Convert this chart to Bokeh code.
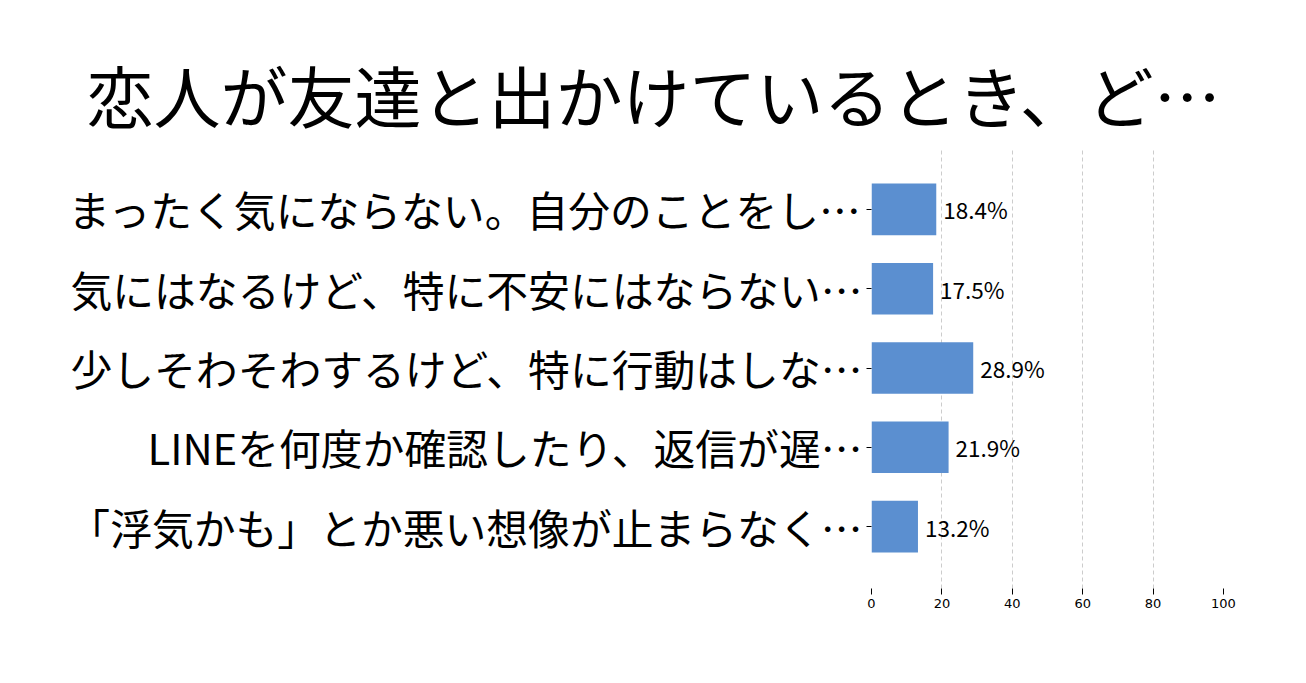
from bokeh.plotting import figure
from bokeh.models import ColumnDataSource, FactorRange, Range1d, FixedTicker
from bokeh.core.properties import value
from bokeh.embed import file_html
from bokeh.resources import INLINE

title_text = "恋人が友達と出かけているとき、ど…"
categories = [
    "まったく気にならない。自分のことをし…",
    "気にはなるけど、特に不安にはならない…",
    "少しそわそわするけど、特に行動はしな…",
    "LINEを何度か確認したり、返信が遅…",
    "「浮気かも」とか悪い想像が止まらなく…",
]
values = [18.4, 17.5, 28.9, 21.9, 13.2]
value_labels = ["18.4%", "17.5%", "28.9%", "21.9%", "13.2%"]
x_ticks = [0, 20, 40, 60, 80, 100]

JP = "Noto Sans CJK JP"
BAR = "#5b8fd0"
W = 1298

source = ColumnDataSource(dict(cat=categories, val=values, lbl=value_labels))

y_range = FactorRange(factors=list(reversed(categories)), range_padding=0.28,
                      range_padding_units="absolute")
p = figure(width=W, height=668, y_range=y_range, x_range=Range1d(0, 100),
           output_backend="svg", toolbar_location=None,
           min_border_left=871, min_border_right=75, min_border_top=147,
           min_border_bottom=80)
p.outline_line_color = None
p.background_fill_color = "white"
p.border_fill_color = "white"

p.title.text = title_text
p.title.align = "left"
p.title.offset = -785
p.title.text_font = JP
p.title.text_font_size = "67px"
p.title.text_font_style = "normal"
p.title.text_color = "black"
p.title.standoff = 12

p.hbar(y="cat", right="val", left=0, height=0.65, source=source,
       fill_color=BAR, line_color=None)
p.text(x="val", y="cat", text="lbl", source=source, x_offset=7,
       text_align="left", text_baseline="middle", text_font=value(JP),
       text_font_size="22.5px", text_color="black")

p.xaxis.ticker = FixedTicker(ticks=x_ticks)
p.xaxis.axis_line_color = None
p.xaxis.major_tick_line_color = "black"
p.xaxis.major_tick_out = 6
p.xaxis.major_tick_in = 0
p.xaxis.minor_tick_line_color = None
p.xaxis.major_label_text_font = "DejaVu Sans"
p.xaxis.major_label_text_font_size = "13px"
p.xaxis.major_label_text_color = "black"
p.xaxis.major_label_standoff = 4

p.yaxis.axis_line_color = None
p.yaxis.major_tick_line_color = "black"
p.yaxis.major_tick_out = 5
p.yaxis.major_tick_in = 0
p.yaxis.minor_tick_line_color = None
p.yaxis.major_label_text_font = JP
p.yaxis.major_label_text_font_size = "41.8px"
p.yaxis.major_label_text_color = "black"
p.yaxis.major_label_standoff = 4

p.ygrid.grid_line_color = None
p.xgrid.ticker = FixedTicker(ticks=x_ticks[:-1])
p.xgrid.grid_line_color = "#cccccc"
p.xgrid.grid_line_dash = "4 3"
p.xgrid.grid_line_width = 1

open("out.html", "w").write(file_html(p, INLINE))
